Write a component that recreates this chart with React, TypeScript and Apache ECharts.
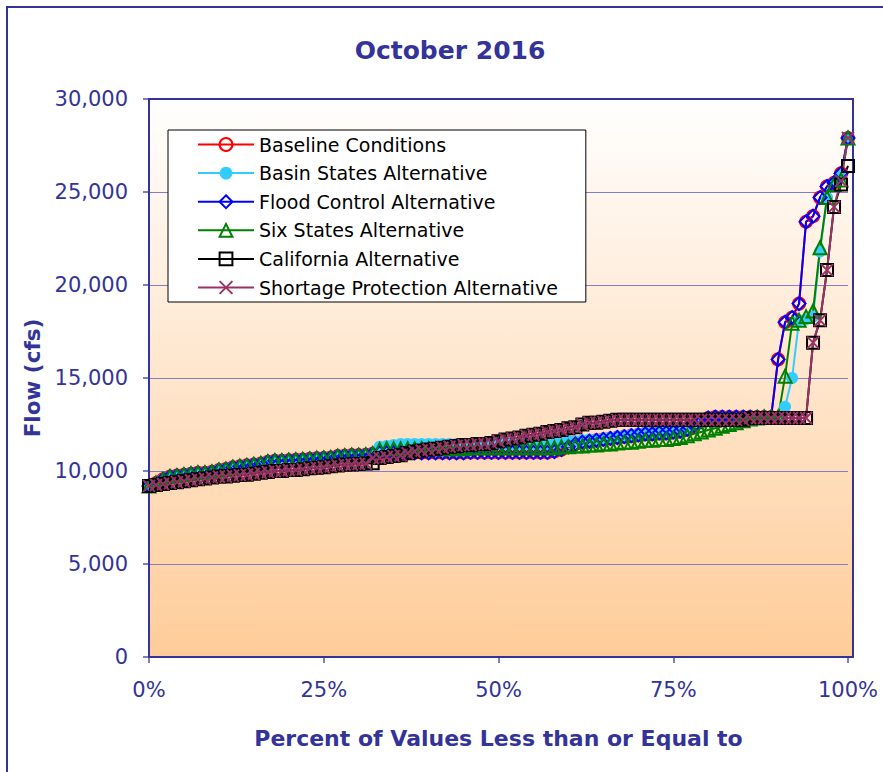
import React, { useEffect, useRef } from 'react';
import * as echarts from 'echarts';

const percents = [
  0, 1, 2, 3, 4, 5, 6, 7, 8, 9, 10, 11, 12, 13, 14, 15, 16, 17, 18, 19, 20,
  21, 22, 23, 24, 25, 26, 27, 28, 29, 30, 31, 32, 33, 34, 35, 36, 37, 38, 39, 40,
  41, 42, 43, 44, 45, 46, 47, 48, 49, 50, 51, 52, 53, 54, 55, 56, 57, 58, 59, 60,
  61, 62, 63, 64, 65, 66, 67, 68, 69, 70, 71, 72, 73, 74, 75, 76, 77, 78, 79, 80,
  81, 82, 83, 84, 85, 86, 87, 88, 89, 90, 91, 92, 93, 94, 95, 96, 97, 98, 99, 100,
];

const baselineConditions = [
  9200, 9350, 9550, 9700, 9750, 9800, 9850, 9900, 9900, 9950, 10050,
  10100, 10200, 10250, 10300, 10350, 10400, 10500, 10550, 10550, 10580,
  10600, 10620, 10650, 10680, 10700, 10720, 10800, 10820, 10850, 10850,
  10870, 10930, 10980, 10980, 10980, 10980, 10980, 10980, 10980, 10980,
  10980, 10980, 10980, 10980, 10980, 11000, 11000, 11000, 11000, 11000,
  11000, 11000, 11000, 11000, 11000, 11000, 11000, 11050, 11150, 11300,
  11450, 11550, 11600, 11650, 11700, 11750, 11800, 11850, 11900, 11950,
  12000, 12000, 12050, 12050, 12100, 12150, 12250, 12450, 12650, 12850,
  12900, 12900, 12900, 12900, 12900, 12900, 12900, 12900, 12900, 16000,
  18000, 18250, 19000, 23400, 23700, 24700, 25300, 25500, 26000, 27900,
];

const basinStatesAlternative = [
  9200, 9350, 9550, 9700, 9750, 9800, 9850, 9900, 9900, 9950, 10050,
  10100, 10200, 10250, 10300, 10350, 10400, 10500, 10550, 10550, 10580,
  10600, 10620, 10650, 10680, 10700, 10720, 10800, 10820, 10850, 10850,
  10870, 10930, 11300, 11350, 11400, 11450, 11450, 11450, 11450, 11450,
  11450, 11450, 11450, 11450, 11450, 11450, 11450, 11450, 11450, 11450,
  11450, 11450, 11450, 11450, 11450, 11450, 11450, 11500, 11550, 11600,
  11600, 11650, 11700, 11700, 11750, 11800, 11850, 11900, 11950, 12000,
  12050, 12050, 12100, 12100, 12150, 12200, 12300, 12450, 12600, 12800,
  12900, 12900, 12900, 12900, 12900, 12900, 12900, 12900, 12900, 12900,
  13450, 15000, 18100, 18150, 18300, 21800, 24700, 25500, 25900, 27900,
];

const floodControlAlternative = [
  9200, 9350, 9550, 9700, 9750, 9800, 9850, 9900, 9900, 9950, 10050,
  10100, 10200, 10250, 10300, 10350, 10400, 10500, 10550, 10550, 10580,
  10600, 10620, 10650, 10680, 10700, 10720, 10800, 10820, 10850, 10850,
  10870, 10930, 10980, 10980, 10980, 10980, 10980, 10980, 10980, 10980,
  10980, 10980, 10980, 10980, 10980, 11000, 11000, 11000, 11000, 11000,
  11000, 11000, 11000, 11000, 11000, 11000, 11000, 11050, 11150, 11300,
  11450, 11550, 11600, 11650, 11700, 11750, 11800, 11850, 11900, 11950,
  12000, 12000, 12050, 12050, 12100, 12150, 12250, 12450, 12650, 12850,
  12900, 12900, 12900, 12900, 12900, 12900, 12900, 12900, 12900, 16000,
  18000, 18250, 19000, 23400, 23700, 24700, 25300, 25500, 26000, 27900,
];

const sixStatesAlternative = [
  9200, 9350, 9550, 9700, 9750, 9800, 9850, 9900, 9900, 9950, 10050,
  10100, 10200, 10250, 10300, 10350, 10400, 10500, 10550, 10550, 10580,
  10600, 10620, 10650, 10680, 10700, 10720, 10800, 10820, 10850, 10850,
  10870, 10930, 11150, 11200, 11200, 11200, 11200, 11200, 11200, 11200,
  11200, 11200, 11200, 11200, 11200, 11250, 11250, 11250, 11250, 11250,
  11250, 11250, 11250, 11250, 11250, 11250, 11250, 11250, 11300, 11300,
  11350, 11350, 11400, 11400, 11450, 11450, 11500, 11550, 11550, 11600,
  11650, 11650, 11700, 11700, 11750, 11800, 11900, 12000, 12100, 12200,
  12300, 12400, 12500, 12600, 12700, 12800, 12850, 12900, 12900, 12900,
  15100, 17950, 18100, 18300, 18600, 22000, 24700, 25400, 25650, 27900,
];

const californiaAlternative = [
  9200, 9250, 9300, 9350, 9400, 9450, 9500, 9550, 9600, 9650, 9700,
  9700, 9750, 9780, 9800, 9850, 9900, 9950, 10000, 10000, 10050,
  10050, 10100, 10150, 10180, 10200, 10250, 10300, 10350, 10350, 10380,
  10400, 10420, 10700, 10750, 10800, 10850, 10950, 11050, 11100, 11150,
  11200, 11250, 11300, 11350, 11400, 11400, 11450, 11450, 11500, 11600,
  11700, 11750, 11800, 11900, 11950, 12000, 12100, 12150, 12200, 12300,
  12350, 12500, 12600, 12600, 12650, 12700, 12750, 12750, 12750, 12750,
  12750, 12750, 12750, 12750, 12750, 12750, 12750, 12750, 12750, 12750,
  12750, 12750, 12750, 12750, 12750, 12850, 12850, 12850, 12850, 12850,
  12850, 12850, 12850, 12850, 16900, 18100, 20800, 24200, 25400, 26400,
];

const shortageProtectionAlternative = [
  9200, 9250, 9300, 9350, 9400, 9450, 9500, 9550, 9600, 9650, 9700,
  9700, 9750, 9780, 9800, 9850, 9900, 9950, 10000, 10000, 10050,
  10050, 10100, 10150, 10180, 10200, 10250, 10300, 10350, 10350, 10380,
  10400, 10700, 10700, 10750, 10800, 10850, 10950, 11050, 11100, 11150,
  11200, 11250, 11300, 11350, 11400, 11400, 11450, 11450, 11500, 11600,
  11700, 11750, 11800, 11900, 11950, 12000, 12100, 12150, 12200, 12300,
  12350, 12500, 12600, 12600, 12650, 12700, 12750, 12750, 12750, 12750,
  12750, 12750, 12750, 12750, 12750, 12750, 12750, 12750, 12750, 12750,
  12750, 12750, 12750, 12750, 12750, 12850, 12850, 12850, 12850, 12850,
  12850, 12850, 12850, 12850, 16900, 18100, 20800, 24200, 25600, 27900,
];

const xTicks = [0, 25, 50, 75, 100];
const yTicks = [0, 5000, 10000, 15000, 20000, 25000, 30000];

const chartTitle = 'October 2016';
const xTitle = 'Percent of Values Less than or Equal to';
const yTitle = 'Flow (cfs)';

const NAVY = '#333399';
const FONT = 'DejaVu Sans';
const X_SYMBOL = 'path://M0,0L10,10M10,0L0,10';
const CLEAR = 'rgba(0,0,0,0)';

export default function App() {
  const ref = useRef<HTMLDivElement>(null);

  useEffect(() => {
    document.body.style.margin = '0';
    const chart = echarts.init(ref.current!, null, { renderer: 'svg' });
    const pair = (vals: number[]) => percents.map((p, i) => [p, vals[i]]);

    const makeSeries = (
      name: string,
      vals: number[],
      color: string,
      symbol: string,
      size: number,
      filled: boolean
    ) => ({
      name,
      type: 'line',
      data: pair(vals),
      symbol,
      symbolSize: size,
      showAllSymbol: true,
      lineStyle: { color, width: 2 },
      itemStyle: filled
        ? { color, borderWidth: 0 }
        : { color: CLEAR, borderColor: color, borderWidth: 2 },
      emphasis: { disabled: true },
    });

    chart.setOption({
      animation: false,
      backgroundColor: '#ffffff',
      graphic: [
        {
          type: 'rect',
          z: -10,
          silent: true,
          shape: { x: 149, y: 99, width: 704, height: 558 },
          style: {
            fill: new echarts.graphic.LinearGradient(0, 0, 0, 1, [
              { offset: 0, color: '#FFFFFF' },
              { offset: 1, color: '#FFCC99' },
            ]),
          },
        },
        {
          type: 'rect',
          z: 1,
          silent: true,
          shape: { x: 149, y: 99, width: 704, height: 558 },
          style: { fill: 'none', stroke: NAVY, lineWidth: 2 },
        },
        {
          type: 'rect',
          z: 1,
          silent: true,
          shape: { x: 7, y: 7, width: 1000, height: 1000 },
          style: { fill: 'none', stroke: NAVY, lineWidth: 2 },
        },
        {
          type: 'text',
          x: 450,
          y: 50,
          style: {
            text: chartTitle,
            fill: NAVY,
            font: `bold 25px "${FONT}"`,
            textAlign: 'center',
            textVerticalAlign: 'middle',
          },
        },
      ],
      grid: { left: 149, right: 35, top: 99, bottom: 115, containLabel: false },
      legend: {
        orient: 'vertical',
        left: 168,
        top: 130,
        itemWidth: 56,
        itemHeight: 16,
        itemGap: 9.6,
        padding: [5, 28, 5, 29],
        backgroundColor: '#ffffff',
        borderColor: '#000000',
        borderWidth: 1,
        textStyle: { fontFamily: FONT, fontSize: 19, color: '#000000' },
        data: [
          'Baseline Conditions',
          'Basin States Alternative',
          'Flood Control Alternative',
          'Six States Alternative',
          'California Alternative',
          'Shortage Protection Alternative',
        ],
      },
      xAxis: {
        type: 'value',
        min: xTicks[0],
        max: xTicks[xTicks.length - 1],
        interval: 25,
        name: xTitle,
        nameLocation: 'middle',
        nameGap: 70,
        nameTextStyle: { color: NAVY, fontFamily: FONT, fontWeight: 'bold', fontSize: 22 },
        axisLine: { show: true, lineStyle: { color: NAVY, width: 2 } },
        axisTick: { show: true, length: 6, lineStyle: { color: '#8080C0', width: 2 } },
        axisLabel: {
          color: NAVY,
          fontFamily: FONT,
          fontSize: 21,
          margin: 22,
          formatter: (v: number) => `${v}%`,
        },
        splitLine: { show: false },
      },
      yAxis: {
        type: 'value',
        min: yTicks[0],
        max: yTicks[yTicks.length - 1],
        interval: 5000,
        name: yTitle,
        nameLocation: 'middle',
        nameRotate: 90,
        nameGap: 106,
        nameTextStyle: { color: NAVY, fontFamily: FONT, fontWeight: 'bold', fontSize: 21.5 },
        axisLine: { show: true, lineStyle: { color: NAVY, width: 2 } },
        axisTick: { show: true, length: 6, lineStyle: { color: '#8080C0', width: 2 } },
        axisLabel: {
          color: NAVY,
          fontFamily: FONT,
          fontSize: 21,
          margin: 21,
          formatter: (v: number) => v.toLocaleString('en-US'),
        },
        splitLine: { show: true, lineStyle: { color: '#8080C0', width: 1 } },
      },
      series: [
        makeSeries('Baseline Conditions', baselineConditions, '#FF0000', 'circle', 12, false),
        makeSeries('Basin States Alternative', basinStatesAlternative, '#33CCFF', 'circle', 12, true),
        makeSeries('Flood Control Alternative', floodControlAlternative, '#0000FF', 'diamond', 13, false),
        makeSeries('Six States Alternative', sixStatesAlternative, '#008000', 'triangle', 13, false),
        makeSeries('California Alternative', californiaAlternative, '#000000', 'rect', 12, false),
        makeSeries('Shortage Protection Alternative', shortageProtectionAlternative, '#993366', X_SYMBOL, 12, false),
      ],
    });

    return () => chart.dispose();
  }, []);

  return (
    <div
      ref={ref}
      style={{ position: 'fixed', left: 0, top: 0, width: 883, height: 772 }}
    />
  );
}
